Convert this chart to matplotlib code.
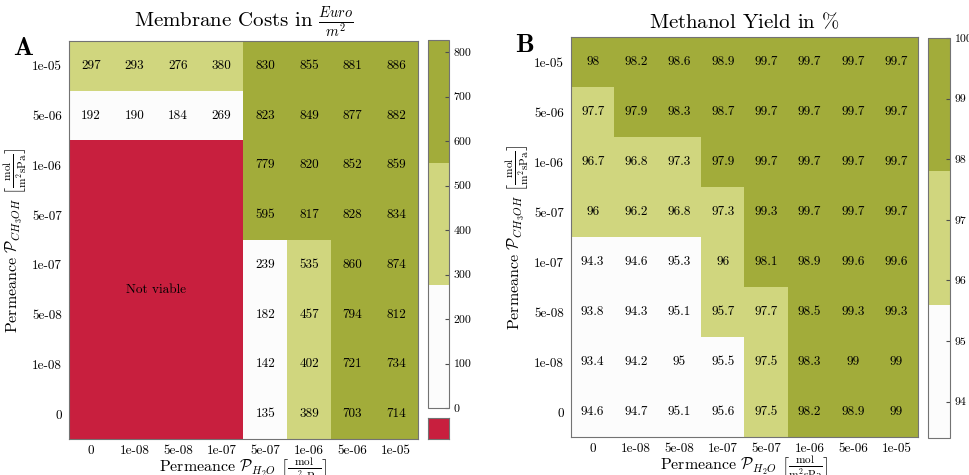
import numpy as np
import matplotlib.pyplot as plt
from matplotlib.colors import ListedColormap, Normalize

plt.rcParams["font.family"] = "cmr10"
plt.rcParams["mathtext.fontset"] = "cm"
plt.rcParams["axes.unicode_minus"] = False

# permeance grid (columns: water, rows: methanol, top to bottom)
perm_h2o = ["0", "1e-08", "5e-08", "1e-07", "5e-07", "1e-06", "5e-06", "1e-05"]
perm_ch3oh = ["1e-05", "5e-06", "1e-06", "5e-07", "1e-07", "5e-08", "1e-08", "0"]

nan = np.nan
# membrane costs in Euro/m2, nan = not viable
costs = np.array([
    [297, 293, 276, 380, 830, 855, 881, 886],
    [192, 190, 184, 269, 823, 849, 877, 882],
    [nan, nan, nan, nan, 779, 820, 852, 859],
    [nan, nan, nan, nan, 595, 817, 828, 834],
    [nan, nan, nan, nan, 239, 535, 860, 874],
    [nan, nan, nan, nan, 182, 457, 794, 812],
    [nan, nan, nan, nan, 142, 402, 721, 734],
    [nan, nan, nan, nan, 135, 389, 703, 714],
])

# methanol yield in %
yields = np.array([
    [98.0, 98.2, 98.6, 98.9, 99.7, 99.7, 99.7, 99.7],
    [97.7, 97.9, 98.3, 98.7, 99.7, 99.7, 99.7, 99.7],
    [96.7, 96.8, 97.3, 97.9, 99.7, 99.7, 99.7, 99.7],
    [96.0, 96.2, 96.8, 97.3, 99.3, 99.7, 99.7, 99.7],
    [94.3, 94.6, 95.3, 96.0, 98.1, 98.9, 99.6, 99.6],
    [93.8, 94.3, 95.1, 95.7, 97.7, 98.5, 99.3, 99.3],
    [93.4, 94.2, 95.0, 95.5, 97.5, 98.3, 99.0, 99.0],
    [94.6, 94.7, 95.1, 95.6, 97.5, 98.2, 98.9, 99.0],
])

cost_range = (0, 827)
yield_range = (93.4, 100)
cost_ticks = range(0, 801, 100)
yield_ticks = range(94, 101)

white = "#fcfcfc"
light = "#d0d67e"
dark = "#a2ac3a"
red = "#c81f3e"
edge = "0.45"

xlabel = r"Permeance $\mathcal{P}_{H_2O}$ $\left[\frac{\mathrm{mol}}{\mathrm{m^2sPa}}\right]$"
ylabel = r"Permeance $\mathcal{P}_{CH_3OH}$ $\left[\frac{\mathrm{mol}}{\mathrm{m^2sPa}}\right]$"

W, H = 970, 475
fig = plt.figure(figsize=(W / 100, H / 100), dpi=100)


def box(x0, y0, x1, y1):
    # pixel box (top-left origin) -> figure fraction rect
    return [x0 / W, 1 - y1 / H, (x1 - x0) / W, (y1 - y0) / H]


def heatmap(ax, cax, data, vrange, ticks, title):
    cmap = ListedColormap([white, light, dark])
    cmap.set_bad(red)
    im = ax.imshow(np.ma.masked_invalid(data), cmap=cmap,
                   norm=Normalize(*vrange), aspect="auto")
    for i in range(data.shape[0]):
        for j in range(data.shape[1]):
            if not np.isnan(data[i, j]):
                ax.text(j, i, f"{data[i, j]:g}", ha="center", va="center",
                        fontsize=9.5, color="k")
    ax.set_xticks(range(len(perm_h2o)), perm_h2o)
    ax.set_yticks(range(len(perm_ch3oh)), perm_ch3oh)
    ax.tick_params(length=0, labelsize=9.5, pad=5)
    ax.tick_params(axis="x", pad=4)
    ax.set_xlabel(xlabel, fontsize=11.5, labelpad=0)
    ax.set_ylabel(ylabel, fontsize=11.5, labelpad=2)
    ax.set_title(title, fontsize=15, pad=6)
    for s in ax.spines.values():
        s.set_edgecolor(edge)

    cb = fig.colorbar(im, cax=cax)
    cb.set_ticks(list(ticks))
    cb.ax.tick_params(direction="in", length=3, labelsize=8.5, color="0.3")
    cb.outline.set_edgecolor(edge)
    return im


axA = fig.add_axes(box(69, 41, 418, 439))
caxA = fig.add_axes(box(428, 40, 449, 408))
heatmap(axA, caxA, costs, cost_range, cost_ticks,
        r"Membrane Costs in $\frac{Euro}{m^2}$")
axA.text(1.5, 4.5, "Not viable", ha="center", va="center", fontsize=9.5)

# red swatch under the colorbar for the not viable cells
nv = fig.add_axes(box(428, 418, 449, 439))
nv.set_facecolor(red)
nv.set_xticks([])
nv.set_yticks([])
for s in nv.spines.values():
    s.set_edgecolor(edge)

axB = fig.add_axes(box(571, 37, 918, 437))
caxB = fig.add_axes(box(928, 38, 950, 438))
heatmap(axB, caxB, yields, yield_range, yield_ticks, r"Methanol Yield in $\%$")

fig.text(13 / W, 1 - 55 / H, "A", family="cmb10", fontsize=19)
fig.text(515 / W, 1 - 52 / H, "B", family="cmb10", fontsize=19)

fig.savefig("out.png", dpi=100)
